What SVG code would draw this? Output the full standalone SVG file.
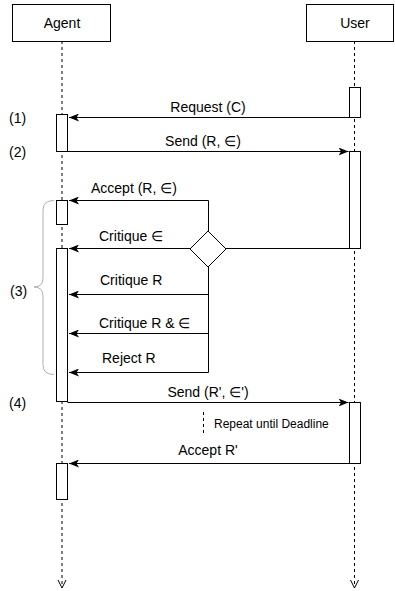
<svg xmlns="http://www.w3.org/2000/svg" width="395" height="591" viewBox="0 0 395 591">
<defs>
<style>
text{font-family:"Liberation Sans",Arial,sans-serif;font-size:14px;fill:#000}
.lbl{text-anchor:middle}
.small{font-size:12px}
.life{stroke:#000;stroke-width:1;stroke-dasharray:3,3;fill:none}
.box{fill:#fff;stroke:#000;stroke-width:1}
.bar{fill:#fff;stroke:#000;stroke-width:1}
.msg{stroke:#000;stroke-width:1;fill:none}
.brace{stroke:#b0b0b0;stroke-width:1;fill:none}
</style>
<marker id="ah" viewBox="0 0 10 8" refX="10" refY="4" markerWidth="10" markerHeight="8" markerUnits="userSpaceOnUse" orient="auto">
<path d="M0,0 L10,4 L0,8 L2.5,4 Z" fill="#000"/>
</marker>
</defs>
<rect width="395" height="591" fill="#fff"/>

<g id="lifelines">
<line class="life" x1="62" y1="41" x2="62" y2="587"/>
<polyline class="msg" points="58,580 62,588 66,580"/>
<line class="life" x1="354.5" y1="41" x2="354.5" y2="587"/>
<polyline class="msg" points="350.5,580 354.5,588 358.5,580"/>
</g>

<g id="agent">
<rect class="box" x="12.5" y="4.5" width="98" height="37"/>
<text class="lbl" x="62" y="28">Agent</text>
</g>
<g id="user">
<rect class="box" x="306.5" y="4.5" width="87" height="37"/>
<text class="lbl" x="355" y="28">User</text>
</g>

<g id="bars">
<rect class="bar" x="349.5" y="87.5" width="11" height="30"/>
<rect class="bar" x="56.5" y="114.5" width="11" height="37"/>
<rect class="bar" x="349.5" y="151.5" width="11" height="97"/>
<rect class="bar" x="56.5" y="200.5" width="11" height="24"/>
<rect class="bar" x="56.5" y="248.5" width="11" height="153"/>
<rect class="bar" x="349.5" y="402.5" width="11" height="61"/>
<rect class="bar" x="56.5" y="463.5" width="11" height="36"/>
</g>

<g id="diamond">
<polygon class="box" points="208,231 226,249 208,267 190,249"/>
</g>

<g id="connectors">
<line class="msg" x1="349.5" y1="117.5" x2="69" y2="117.5" marker-end="url(#ah)"/>
<line class="msg" x1="67.5" y1="151.5" x2="348.5" y2="151.5" marker-end="url(#ah)"/>
<polyline class="msg" points="208.5,231 208.5,200.5 69,200.5" marker-end="url(#ah)"/>
<line class="msg" x1="190" y1="248.5" x2="69" y2="248.5" marker-end="url(#ah)"/>
<line class="msg" x1="226" y1="248.5" x2="349.5" y2="248.5"/>
<line class="msg" x1="208.5" y1="267" x2="208.5" y2="372.5"/>
<line class="msg" x1="208.5" y1="294.5" x2="69" y2="294.5" marker-end="url(#ah)"/>
<line class="msg" x1="208.5" y1="333.5" x2="69" y2="333.5" marker-end="url(#ah)"/>
<line class="msg" x1="208.5" y1="372.5" x2="69" y2="372.5" marker-end="url(#ah)"/>
<line class="msg" x1="67.5" y1="402.5" x2="348.5" y2="402.5" marker-end="url(#ah)"/>
<line class="msg" x1="349.5" y1="463.5" x2="69" y2="463.5" marker-end="url(#ah)"/>
<line class="life" x1="203.5" y1="412" x2="203.5" y2="435"/>
</g>

<g id="brace">
<path class="brace" d="M54,200.5 Q43,200.5 43,210 L43,278 Q43,287 34,287 Q43,287 43,296 L43,365 Q43,374.5 54,374.5"/>
</g>

<g id="labels">
<text class="lbl" x="208" y="112">Request (C)</text>
<text class="lbl" x="203" y="146">Send (R, ∈)</text>
<text x="91" y="193">Accept (R, ∈)</text>
<text x="99" y="241">Critique ∈</text>
<text x="100" y="285">Critique R</text>
<text x="99" y="328">Critique R &amp; ∈</text>
<text x="102" y="363">Reject R</text>
<text class="lbl" x="208" y="397">Send (R', ∈')</text>
<text class="small" x="214" y="428">Repeat until Deadline</text>
<text class="lbl" x="208" y="455">Accept R'</text>
<text x="9" y="123">(1)</text>
<text x="9" y="157">(2)</text>
<text x="10" y="296">(3)</text>
<text x="9" y="408">(4)</text>
</g>
</svg>
